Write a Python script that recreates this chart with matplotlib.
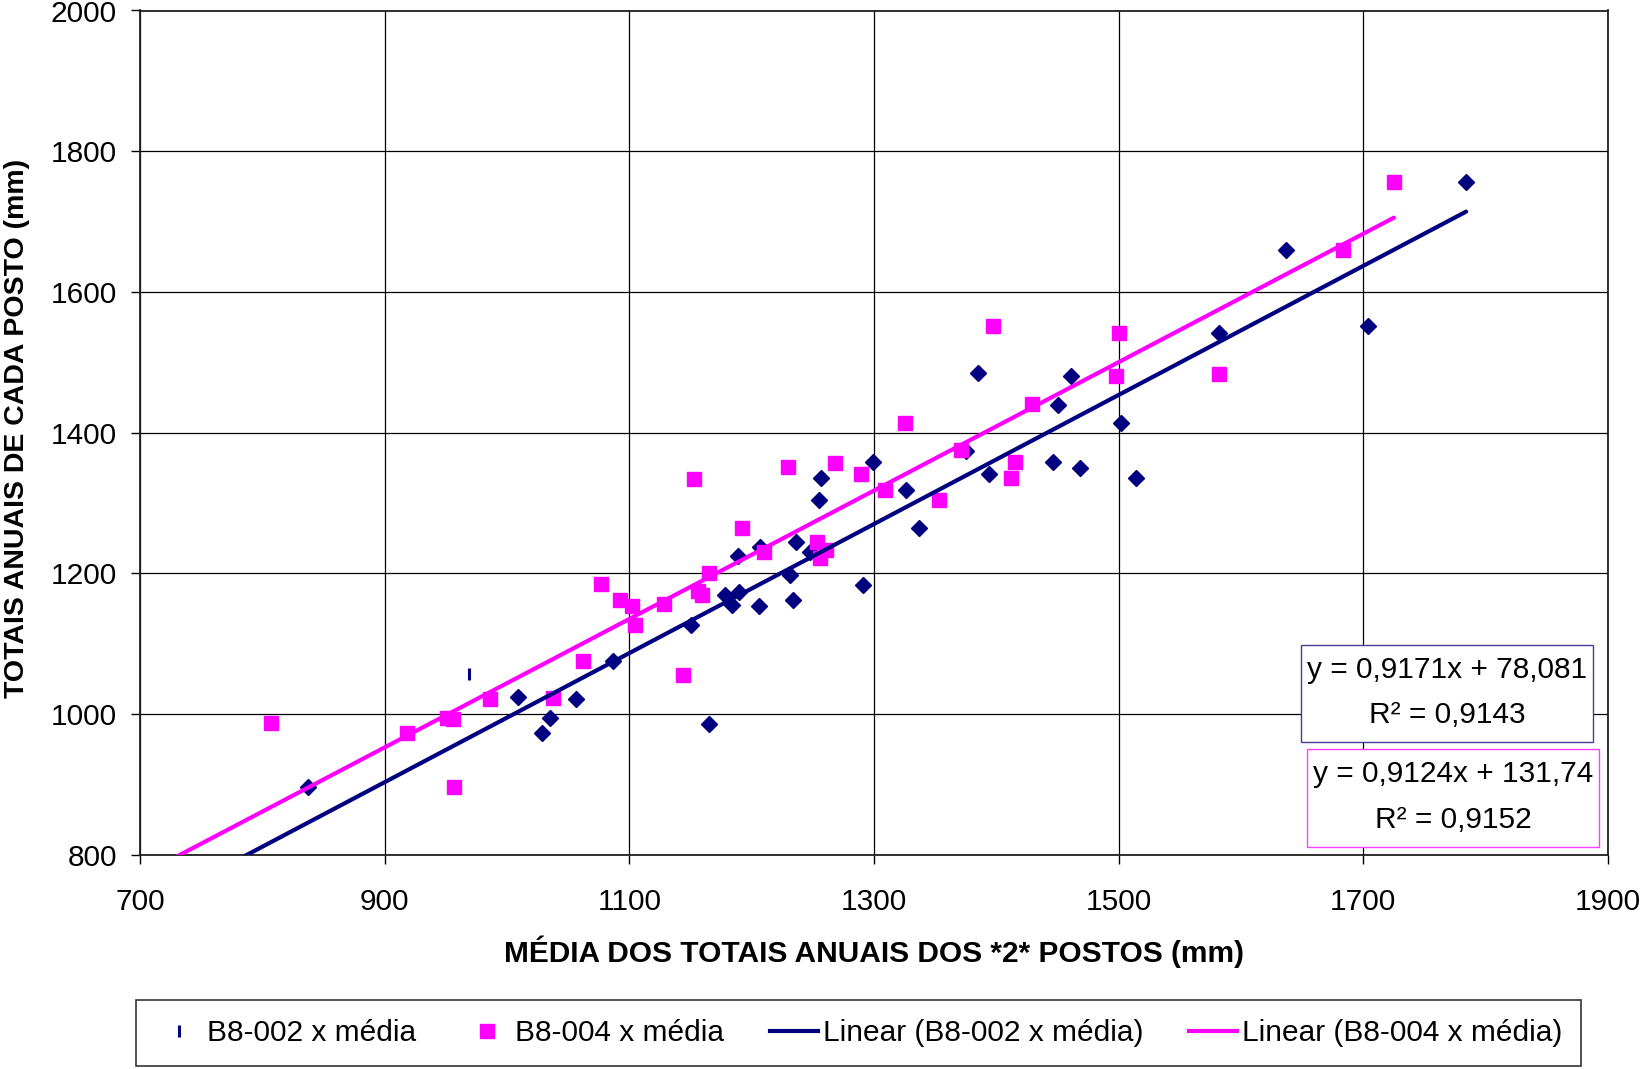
import matplotlib
matplotlib.use("Agg")
import matplotlib.pyplot as plt
from matplotlib.lines import Line2D
from matplotlib.patches import Rectangle
import numpy as np

plt.rcParams['font.family'] = ['Liberation Sans', 'DejaVu Sans']

# Annual totals of station B8-002 versus the mean of the two stations (mm)
b8_002_x = [837, 1009, 1029, 1035, 1056, 1087, 1150, 1165, 1178, 1184,
            1190, 1189, 1206, 1207, 1231, 1236, 1234, 1248, 1255, 1257,
            1291, 1299, 1326, 1337, 1375, 1385, 1394, 1446, 1450, 1461,
            1468, 1502, 1514, 1582, 1637, 1704, 1784]
b8_002_y = [897, 1024, 973, 994, 1022, 1075, 1127, 986, 1169, 1155,
            1174, 1225, 1154, 1237, 1198, 1245, 1163, 1230, 1305, 1335,
            1184, 1358, 1319, 1265, 1374, 1485, 1342, 1358, 1440, 1480,
            1350, 1414, 1335, 1542, 1660, 1552, 1756]
# one B8-002 year plotted with the series' own dash marker
b8_002_dash_x = [969]
b8_002_dash_y = [1057]

# Annual totals of station B8-004 versus the mean of the two stations (mm)
b8_004_x = [807, 918, 951, 956, 957, 986, 1038, 1062, 1077, 1092,
            1102, 1105, 1128, 1144, 1153, 1156, 1159, 1165, 1192, 1210,
            1230, 1253, 1256, 1261, 1268, 1289, 1309, 1325, 1353, 1371,
            1397, 1412, 1415, 1429, 1498, 1500, 1582, 1683, 1725]
b8_004_y = [987, 974, 995, 993, 896, 1022, 1023, 1075, 1185, 1163,
            1154, 1127, 1156, 1056, 1334, 1175, 1169, 1200, 1265, 1230,
            1351, 1245, 1222, 1234, 1357, 1341, 1318, 1414, 1305, 1375,
            1552, 1336, 1358, 1441, 1480, 1542, 1484, 1660, 1756]

# Linear trend lines: slope, intercept, R²
fit_002 = (0.9171, 78.081, 0.9143)
fit_004 = (0.9124, 131.74, 0.9152)

x_ticks = [700, 900, 1100, 1300, 1500, 1700, 1900]
y_ticks = [800, 1000, 1200, 1400, 1600, 1800, 2000]

NAVY = '#000080'
MAGENTA = '#FF00FF'
FS = 21.5

W, H = 1647, 1069
fig = plt.figure(figsize=(W / 100, H / 100), dpi=100)
ax = fig.add_axes([140 / W, 1 - 855 / H, (1608 - 140) / W, (855 - 10.5) / H])

ax.set_xlim(x_ticks[0], x_ticks[-1])
ax.set_ylim(y_ticks[0], y_ticks[-1])
ax.set_xticks(x_ticks)
ax.set_yticks(y_ticks)
ax.grid(True, color='black', linewidth=0.9, zorder=0)
ax.set_axisbelow(True)
for s in ax.spines.values():
    s.set_color('#202020')
    s.set_linewidth(1.3)
ax.tick_params(axis='both', direction='out', length=6.5, width=1.0,
               colors='black', labelsize=FS)
ax.tick_params(axis='y', pad=10)
ax.tick_params(axis='x', pad=17)

# scatter points
ax.plot(b8_002_x, b8_002_y, linestyle='none', marker='D', markersize=8,
        color=NAVY, zorder=3)
ax.plot(b8_002_dash_x, b8_002_dash_y, linestyle='none', marker='|',
        markersize=9, markeredgewidth=2.2, color=NAVY, zorder=3)
ax.plot(b8_004_x, b8_004_y, linestyle='none', marker='s', markersize=10,
        color=MAGENTA, zorder=3)

# trend lines from the fitted coefficients
def trend(fit, xmax):
    xs = np.linspace(x_ticks[0], xmax, 50)
    return xs, fit[0] * xs + fit[1]

tx, ty = trend(fit_002, max(b8_002_x))
ax.plot(tx, ty, color=NAVY, linewidth=3.0, solid_capstyle='round', zorder=4)
tx, ty = trend(fit_004, max(b8_004_x))
ax.plot(tx, ty, color=MAGENTA, linewidth=3.0, solid_capstyle='round', zorder=4)

fig.text(17 / W, 1 - 428 / H, 'TOTAIS ANUAIS DE CADA POSTO (mm)', rotation=90,
         ha='center', va='center', fontsize=20.5, fontweight='bold')
fig.text(874 / W, 1 - 952 / H, 'MÉDIA DOS TOTAIS ANUAIS DOS *2* POSTOS (mm)',
         ha='center', va='center', fontsize=FS, fontweight='bold')


def fmt(v):
    return f'{v:.5g}'.replace('.', ',')


def eq_box(fit, color, x0, y0, x1, y1):
    rect = Rectangle((x0 / W, 1 - y1 / H), (x1 - x0) / W, (y1 - y0) / H,
                     transform=fig.transFigure, facecolor='white',
                     edgecolor=color, linewidth=1.0, zorder=10)
    fig.patches.append(rect)
    cx = (x0 + x1) / 2
    fig.text(cx / W, 1 - (y0 + 0.26 * (y1 - y0)) / H,
             f'y = {fmt(fit[0])}x + {fmt(fit[1])}',
             ha='center', va='center', fontsize=FS, zorder=11)
    fig.text(cx / W, 1 - (y0 + 0.72 * (y1 - y0)) / H,
             f'R² = {fmt(fit[2])}',
             ha='center', va='center', fontsize=FS, zorder=11)


eq_box(fit_002, '#404098', 1301, 645, 1593, 742)
eq_box(fit_004, '#FF40FF', 1307, 749, 1599, 847)

handles = [
    Line2D([], [], linestyle='none', marker='|', markersize=9,
           markeredgewidth=2.2, color=NAVY),
    Line2D([], [], linestyle='none', marker='s', markersize=10, color=MAGENTA),
    Line2D([], [], color=NAVY, linewidth=3),
    Line2D([], [], color=MAGENTA, linewidth=3),
]
labels = ['B8-002 x média', 'B8-004 x média',
          'Linear (B8-002 x média)', 'Linear (B8-004 x média)']
leg = fig.legend(handles, labels, ncol=4, loc='center',
                 bbox_to_anchor=(858.5 / W, 1 - 1033 / H),
                 fontsize=FS, frameon=True, fancybox=False,
                 handlelength=1.6, handletextpad=0.15, columnspacing=1.55,
                 borderpad=0.65, borderaxespad=0)
leg.get_frame().set_edgecolor('black')
leg.get_frame().set_linewidth(1.2)

fig.savefig('out.png', dpi=100)
